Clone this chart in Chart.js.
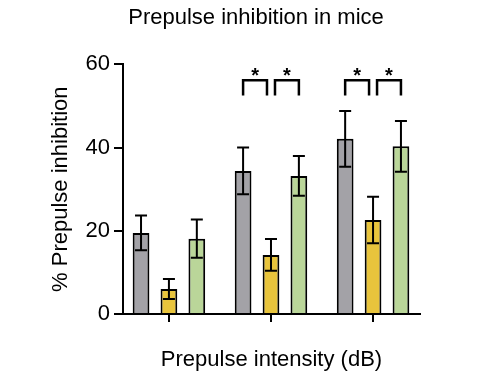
<!DOCTYPE html>
<html>
<head>
<meta charset="utf-8">
<script src="https://cdn.jsdelivr.net/npm/chart.js@4"></script>
<style>
  html, body { margin: 0; padding: 0; background: #ffffff; }
  #wrap { width: 497px; height: 382px; }
</style>
</head>
<body>
<div id="wrap"><canvas id="c" width="497" height="382"></canvas></div>
<script>
// ---- data ----
const groups = [0, 1, 2];                 // prepulse intensity groups (no tick labels shown)
const seriesNames = ['Control', 'Group B', 'Group C'];
const grayValues = [19.5, 34.4, 42.1];
const grayErrors = [4.2, 5.6, 6.7];
const yellowValues = [6.0, 14.2, 22.6];
const yellowErrors = [2.4, 3.8, 5.6];
const greenValues = [18.1, 33.2, 40.3];
const greenErrors = [4.6, 4.8, 6.1];
const yTicks = [0, 20, 40, 60];
// significance brackets: [group, fromSeries, toSeries]
const sigPairs = [[1, 0, 1], [1, 1, 2], [2, 0, 1], [2, 1, 2]];
const bracketTop = 56.2;
const bracketBottom = 52.5;

const errorSets = [grayErrors, yellowErrors, greenErrors];
const FONT = '"Liberation Sans", Arial, sans-serif';

const errorBarPlugin = {
  id: 'errorBars',
  afterDatasetsDraw(chart) {
    const ctx = chart.ctx;
    const ys = chart.scales.y;
    ctx.save();
    ctx.strokeStyle = '#000';
    ctx.lineWidth = 2;
    chart.data.datasets.forEach((ds, di) => {
      const meta = chart.getDatasetMeta(di);
      meta.data.forEach((bar, i) => {
        const v = ds.data[i], e = errorSets[di][i];
        const yt = ys.getPixelForValue(v + e);
        const yb = ys.getPixelForValue(v - e);
        const x = bar.x, hw = 6;
        ctx.beginPath();
        ctx.moveTo(x, yt); ctx.lineTo(x, yb);
        ctx.moveTo(x - hw, yt); ctx.lineTo(x + hw, yt);
        ctx.moveTo(x - hw, yb); ctx.lineTo(x + hw, yb);
        ctx.stroke();
      });
    });
    // brackets
    const yTop = ys.getPixelForValue(bracketTop);
    const yBot = ys.getPixelForValue(bracketBottom);
    ctx.lineWidth = 2.5;
    ctx.lineJoin = 'miter';
    sigPairs.forEach(([g, a, b]) => {
      let x1 = chart.getDatasetMeta(a).data[g].x;
      let x2 = chart.getDatasetMeta(b).data[g].x;
      if (a === 1) x1 += 4;
      if (b === 1) x2 -= 4;
      ctx.beginPath();
      ctx.moveTo(x1, yBot); ctx.lineTo(x1, yTop); ctx.lineTo(x2, yTop); ctx.lineTo(x2, yBot);
      ctx.stroke();
      ctx.fillStyle = '#000';
      ctx.font = 'bold 20px ' + FONT;
      ctx.textAlign = 'center';
      ctx.textBaseline = 'alphabetic';
      ctx.fillText('*', (x1 + x2) / 2, yTop + 2);
    });
    ctx.restore();
  }
};

new Chart(document.getElementById('c'), {
  type: 'bar',
  data: {
    labels: groups,
    datasets: [
      { label: seriesNames[0], data: grayValues, backgroundColor: '#a3a2a7' },
      { label: seriesNames[1], data: yellowValues, backgroundColor: '#e8c43c' },
      { label: seriesNames[2], data: greenValues, backgroundColor: '#bad699' }
    ]
  },
  options: {
    responsive: false,
    animation: false,
    layout: { padding: { left: 15, right: 0, top: 0, bottom: 0 } },
    datasets: {
      bar: {
        borderColor: '#000',
        borderWidth: 2,
        categoryPercentage: 0.82,
        barPercentage: 0.6
      }
    },
    plugins: {
      legend: { display: false },
      tooltip: { enabled: false },
      title: {
        display: true,
        text: 'Prepulse inhibition in mice',
        color: '#000',
        font: { family: FONT, size: 22, weight: 'normal' },
        padding: { top: 5, bottom: 33 }
      }
    },
    scales: {
      x: {
        type: 'linear',
        min: -0.45,
        max: 2.46,
        offset: false,
        afterBuildTicks: (s) => { s.ticks = groups.map(v => ({ value: v })); },
        afterFit: (s) => { s.height = 68; },
        ticks: { callback: () => '', font: { family: FONT, size: 22 } },
        grid: { offset: false, drawOnChartArea: false, drawTicks: true, tickLength: 8, color: '#000', lineWidth: 2 },
        border: { display: true, color: '#000', width: 2 },
        title: {
          display: true,
          text: 'Prepulse intensity (dB)',
          color: '#000',
          font: { family: FONT, size: 22 },
          padding: { top: 0, bottom: 9 }
        }
      },
      y: {
        min: 0,
        max: 60,
        afterBuildTicks: (s) => { s.ticks = yTicks.map(v => ({ value: v })); },
        afterFit: (s) => { s.width = 108; },
        ticks: { color: '#000', font: { family: FONT, size: 22 }, padding: 4 },
        grid: { drawOnChartArea: false, drawTicks: true, tickLength: 9, color: '#000', lineWidth: 2 },
        border: { display: true, color: '#000', width: 2 },
        title: {
          display: true,
          text: '% Prepulse inhibition',
          color: '#000',
          font: { family: FONT, size: 22 },
          padding: { top: 33, bottom: 0 }
        }
      },
      yR: {
        type: 'linear',
        position: 'right',
        display: true,
        afterFit: (s) => { s.width = 77; },
        ticks: { display: false },
        grid: { display: false, drawTicks: false },
        border: { display: false }
      }
    }
  },
  plugins: [errorBarPlugin]
});
</script>
</body>
</html>
